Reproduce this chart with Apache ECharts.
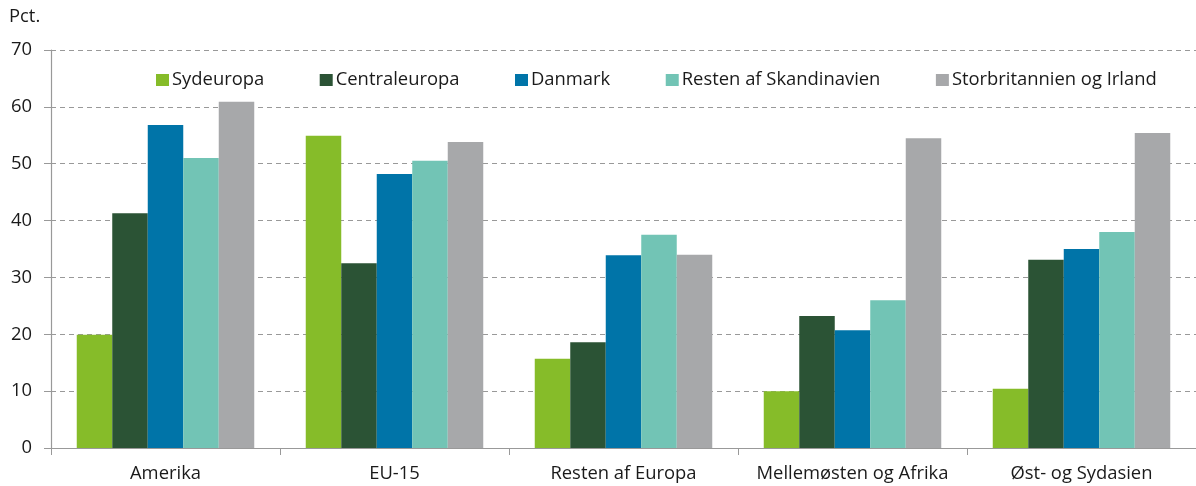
<!DOCTYPE html>
<html>
<head>
<meta charset="utf-8">
<script src="https://cdn.jsdelivr.net/npm/echarts@6/dist/echarts.min.js"></script>
<style>
  html, body { margin: 0; padding: 0; background: #fff; }
  #chart { width: 1196px; height: 486px; }
</style>
</head>
<body>
<div id="chart"></div>
<script>
// Regions of origin along the x axis
const categories = ['Amerika', 'EU-15', 'Resten af Europa', 'Mellemøsten og Afrika', 'Øst- og Sydasien'];

// Share (pct.) per group of countries
const sydeuropa      = [19.9, 54.9, 15.7, 10.0, 10.4];
const centraleuropa  = [41.3, 32.5, 18.6, 23.2, 33.1];
const danmark        = [56.8, 48.2, 33.9, 20.7, 35.0];
const restenSkand    = [51.0, 50.5, 37.5, 26.0, 38.0];
const storbritannien = [60.9, 53.8, 34.0, 54.5, 55.4];

const yTicks = [0, 10, 20, 30, 40, 50, 60, 70];

const seriesDefs = [
  { name: 'Sydeuropa', data: sydeuropa, color: '#86bc29' },
  { name: 'Centraleuropa', data: centraleuropa, color: '#2b5335' },
  { name: 'Danmark', data: danmark, color: '#0074a8' },
  { name: 'Resten af Skandinavien', data: restenSkand, color: '#72c4b5' },
  { name: 'Storbritannien og Irland', data: storbritannien, color: '#a7a8aa' }
];

const font = '"Open Sans", "Noto Sans", sans-serif';
const fs = 18.4;
const chart = echarts.init(document.getElementById('chart'));

chart.setOption({
  animation: false,
  textStyle: { fontFamily: font },
  graphic: [{
    type: 'text', left: 9, top: 8,
    style: { text: 'Pct.', font: fs + 'px ' + font, fill: '#1a1a1a' }
  }],
  legend: {
    top: 66, left: 151,
    itemWidth: 13, itemHeight: 12, itemGap: 55.5,
    icon: 'rect',
    textStyle: { fontSize: fs, color: '#1a1a1a', fontFamily: font, padding: [0, 0, 0, -2] },
    data: seriesDefs.map(s => s.name)
  },
  grid: { left: 51, top: 50, width: 1152, height: 398, containLabel: false },
  xAxis: {
    type: 'category',
    data: categories,
    axisLine: { lineStyle: { color: '#999', width: 1.2 } },
    axisTick: { show: true, interval: 0, length: 7, lineStyle: { color: '#999' } },
    axisLabel: { interval: 0, fontSize: fs, color: '#1a1a1a', margin: 17, fontFamily: font }
  },
  yAxis: {
    type: 'value',
    min: yTicks[0], max: yTicks[yTicks.length - 1], interval: 10,
    axisLine: { show: true, lineStyle: { color: '#999', width: 1.2 } },
    axisTick: { show: true, length: 7, lineStyle: { color: '#999' } },
    axisLabel: { fontSize: fs, color: '#1a1a1a', margin: 19, fontFamily: font },
    splitLine: { lineStyle: { type: [5, 4], color: '#999', width: 1 } }
  },
  series: seriesDefs.map(s => ({
    name: s.name,
    type: 'bar',
    data: s.data,
    barWidth: 35.5,
    barGap: '0%',
    itemStyle: { color: s.color }
  }))
});
</script>
</body>
</html>
